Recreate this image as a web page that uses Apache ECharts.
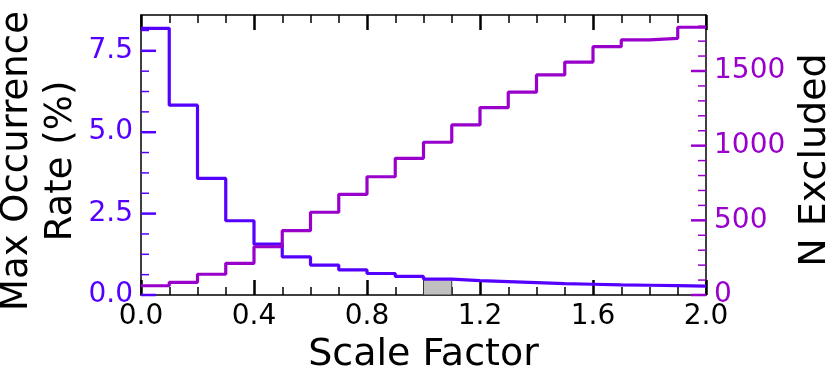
<!DOCTYPE html>
<html>
<head>
<meta charset="utf-8">
<script src="https://cdn.jsdelivr.net/npm/echarts@6/dist/echarts.min.js"></script>
<style>
  html, body { margin: 0; padding: 0; background: #fff; }
  #main { width: 830px; height: 374px; }
</style>
</head>
<body>
<div id="main"></div>
<script>
// bin left edges (width 0.1)
const binEdges = [0.0, 0.1, 0.2, 0.3, 0.4, 0.5, 0.6, 0.7, 0.8, 0.9,
                  1.0, 1.1, 1.2, 1.3, 1.4, 1.5, 1.6, 1.7, 1.8, 1.9, 2.0];
// max occurrence rate (%) per bin
const rateValues = [8.19, 5.83, 3.58, 2.28, 1.56, 1.17, 0.92, 0.77, 0.66, 0.57,
                    0.49, 0.44, 0.41, 0.38, 0.35, 0.33, 0.31, 0.30, 0.29, 0.27];
// number excluded per bin
const excludedValues = [62, 85, 139, 212, 323, 431, 554, 674, 792, 915,
                        1023, 1139, 1255, 1358, 1474, 1560, 1663, 1708, 1719, 1793];
// highlighted bin (scale factor 1.0)
const highlightBin = [1.0, 1.1, 0.49];

const rateTicks = [0, 2.5, 5.0, 7.5];
const excludedTicks = [0, 500, 1000, 1500];

const BLUE = "#5500ff";
const PURPLE = "#9900cc";
const FONT = "DejaVu Sans";

// minor tick positions
const rateMinor = [];
for (let i = 1; i * 0.625 < 8.6; i++) if (i % 4) rateMinor.push(i * 0.625);
const excludedMinor = [];
for (let i = 1; i * 100 < 1875; i++) if (i % 5) excludedMinor.push(i * 100);

const stepData = (vals) => {
  const d = vals.map((v, i) => [binEdges[i], v]);
  d.push([binEdges[vals.length], vals[vals.length - 1]]);
  return d;
};

// y ticks drawn inward from the left (x=0) or right (x=2) spine
const tickSeries = (yIdx, xAt, dir, majors, minors, color) => ({
  type: "custom",
  xAxisIndex: 0, yAxisIndex: yIdx,
  z: 5, silent: true, clip: false,
  data: majors.map((v) => [xAt, v, 15, 2.5]).concat(minors.map((v) => [xAt, v, 8, 1.5])),
  renderItem: (params, api) => {
    const p = api.coord([api.value(0), api.value(1)]);
    return {
      type: "line",
      shape: { x1: p[0], y1: p[1], x2: p[0] + dir * api.value(2), y2: p[1] },
      style: { stroke: color, lineWidth: api.value(3) },
    };
  },
});

const chart = echarts.init(document.getElementById("main"));

const xBase = {
  type: "value", min: 0, max: 2, interval: 0.4,
  axisLine: { onZero: false, lineStyle: { color: "#000", width: 1.5 } },
  axisTick: { inside: true, length: 15, lineStyle: { color: "#000", width: 2.5 } },
  minorTick: { show: true, splitNumber: 4, length: 8, lineStyle: { color: "#000", width: 1.5 } },
  splitLine: { show: false },
};

const yBase = (pos, max, color, majors) => ({
  type: "value", position: pos, min: 0, max: max,
  axisLine: { show: true, onZero: false, lineStyle: { color: "#000", width: 1.5 } },
  axisTick: { show: false },
  axisLabel: {
    customValues: majors, color: color, fontFamily: FONT, fontSize: 28, margin: 8,
    formatter: (v) => (max < 100 ? v.toFixed(1) : String(v)),
  },
  splitLine: { show: false },
});

const yRate = yBase("left", 8.6, BLUE, rateTicks);
const yExcl = yBase("right", 1875, PURPLE, excludedTicks);

Object.assign(yRate, {
  name: "Max Occurrence\nRate (%)", nameLocation: "middle", nameRotate: 90, nameGap: 58,
  nameMoveOverlap: false,
  nameTextStyle: { color: "#000", fontFamily: FONT, fontSize: 37, lineHeight: 44, padding: [0, 12, 0, 0] },
});
Object.assign(yExcl, {
  name: "N Excluded", nameLocation: "middle", nameRotate: 90, nameGap: 84,
  nameTextStyle: { color: "#000", fontFamily: FONT, fontSize: 38, padding: [0, 10, 0, 0] },
});

const option = {
  animation: false,
  grid: { left: 141, right: 124, top: 15, bottom: 79, outerBoundsMode: "none" },
  xAxis: [
    Object.assign({}, xBase, {
      position: "bottom",
      name: "Scale Factor", nameLocation: "middle", nameGap: 40,
      nameTextStyle: { color: "#000", fontFamily: FONT, fontSize: 38 },
      axisLabel: { color: "#000", fontFamily: FONT, fontSize: 28, margin: 8,
                   formatter: (v) => v.toFixed(1) },
    }),
    Object.assign({}, xBase, { position: "top", axisLabel: { show: false } }),
  ],
  yAxis: [yRate, yExcl],
  series: [
    {
      type: "custom",
      xAxisIndex: 0, yAxisIndex: 0,
      z: 1,
      data: [highlightBin],
      renderItem: (params, api) => {
        const p0 = api.coord([api.value(0), api.value(2)]);
        const p1 = api.coord([api.value(1), 0]);
        return {
          type: "rect",
          shape: { x: p0[0], y: p0[1], width: p1[0] - p0[0], height: p1[1] - p0[1] },
          style: { fill: "#c0c0c0", stroke: "#333", lineWidth: 1 },
        };
      },
    },
    {
      name: "rate", type: "line", step: "end",
      xAxisIndex: 0, yAxisIndex: 0, z: 2,
      data: stepData(rateValues),
      showSymbol: false,
      lineStyle: { color: BLUE, width: 3.2 },
    },
    {
      name: "excluded", type: "line", step: "end",
      xAxisIndex: 0, yAxisIndex: 1, z: 3,
      data: stepData(excludedValues),
      showSymbol: false,
      lineStyle: { color: PURPLE, width: 3.2 },
    },
    tickSeries(0, 0, 1, rateTicks, rateMinor, BLUE),
    tickSeries(1, 2, -1, excludedTicks, excludedMinor, PURPLE),
  ],
};

chart.setOption(option);
</script>
</body>
</html>
